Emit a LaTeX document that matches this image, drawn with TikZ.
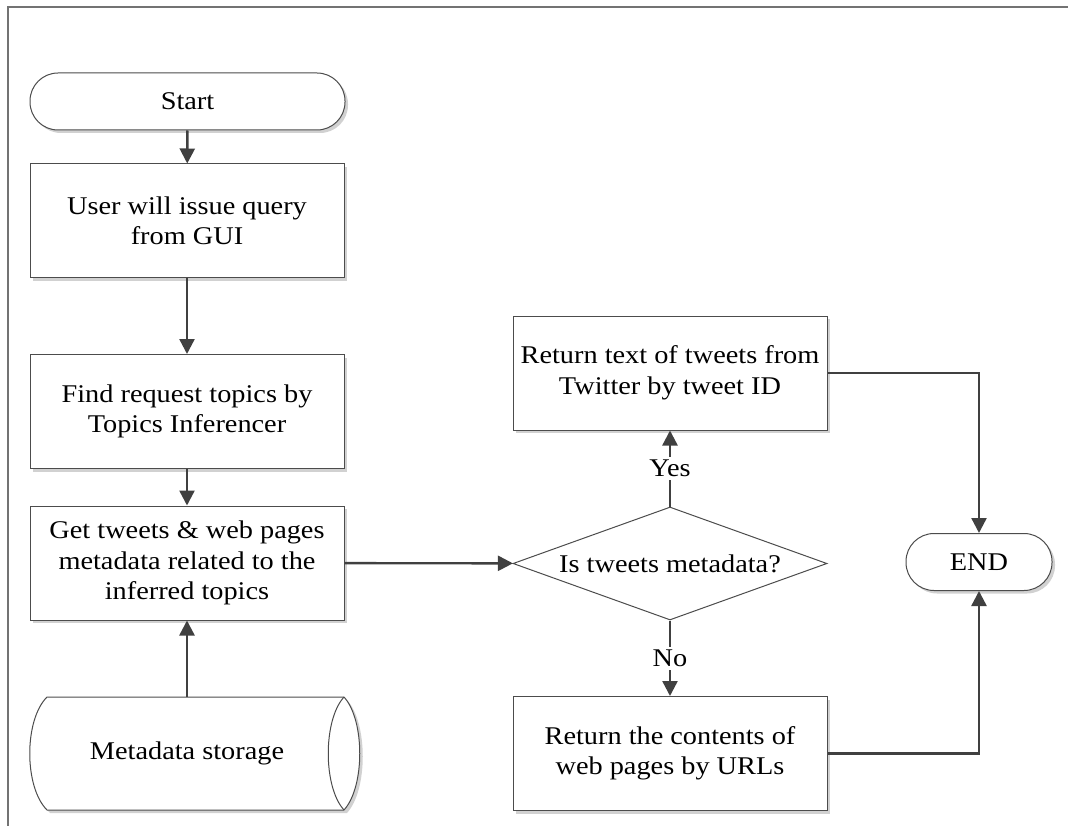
\documentclass[tikz,border=0pt]{standalone}
\usepackage{fontspec}
\setmainfont[FakeStretch=1.11]{Liberation Serif}
\usetikzlibrary{arrows.meta,shapes.geometric,shadows}

\begin{document}
\begin{tikzpicture}[x=1pt,y=-1pt,
  font=\fontsize{25.5}{30.5}\selectfont,
  boxshadow/.style={drop shadow={shadow xshift=3pt,shadow yshift=-3pt,fill=black!18,opacity=1}},
  procbox/.style={draw=black!70,line width=1pt,fill=white,minimum width=314pt,
    minimum height=114pt,align=center,inner sep=0pt,boxshadow},
  term/.style={draw=black!70,line width=1pt,fill=white,rounded corners=28pt,
    minimum height=57pt,inner sep=0pt,boxshadow},
  decision/.style={diamond,aspect=2.78,draw=black!70,line width=1pt,fill=white,
    minimum width=314pt,minimum height=113pt,inner sep=0pt},
  flow/.style={draw=black!75,line width=2.4pt,-{Triangle[length=15pt,width=15pt]}},
  flowlabel/.style={fill=white,inner sep=3pt},
  ]
\useasboundingbox (0,0) rectangle (1068,826);

% page frame (top and left edges)
\draw[black!55,line width=1.5pt] (8,826) -- (8,7) -- (1068,7);

% terminals and process boxes
\node[term,minimum width=315pt] (start) at (187.5,101.5) {Start};
\node[procbox] (gui) at (187,221) {User will issue query\\from GUI};
\node[procbox] (topics) at (187,411.5) {Find request topics by\\Topics Inferencer};
\node[procbox] (meta) at (187,563) {Get tweets \& web pages\\metadata related to the\\inferred topics};
\node[decision] (isTweet) at (670,563.5) {Is tweets metadata?};
\node[procbox] (tweets) at (670,373) {Return text of tweets from\\Twitter by tweet ID};
\node[procbox] (pages) at (670,753.5) {Return the contents of\\web pages by URLs};
\node[term,minimum width=146pt] (finish) at (979,562) {END};

% stored-data symbol
\fill[black!18,shift={(3,3)}] (47,697) -- (344,697) .. controls (365,720) and (365,787) .. (344,810)
  -- (47,810) .. controls (24,787) and (24,720) .. (47,697) -- cycle;
\filldraw[fill=white,draw=black!70,line width=1pt] (47,697) -- (344,697)
  .. controls (365,720) and (365,787) .. (344,810)
  -- (47,810) .. controls (24,787) and (24,720) .. (47,697) -- cycle;
\draw[black!70,line width=1pt] (344,697) .. controls (323,720) and (323,787) .. (344,810);
\node[minimum width=314pt,minimum height=113pt,inner sep=0pt] (store) at (187,753.5) {Metadata storage};

% connectors
\draw[flow] (start) -- (gui);
\draw[flow] (gui) -- (topics);
\draw[flow] (topics) -- (meta);
\draw[flow] (store) -- (meta);
\draw[flow] (meta) -- (isTweet);
\draw[flow] (isTweet) -- node[flowlabel] {Yes} (tweets);
\draw[flow] (isTweet) -- node[flowlabel] {No} (pages);
\draw[flow] (tweets.east) -| (finish.north);
\draw[flow] (pages.east) -| (finish.south);
\end{tikzpicture}
\end{document}
